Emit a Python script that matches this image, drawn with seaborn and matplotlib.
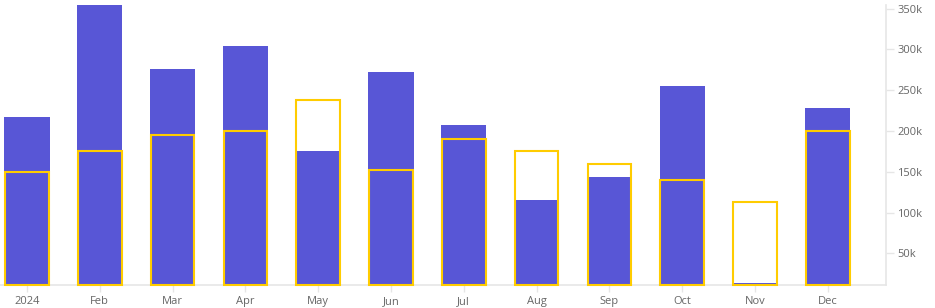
import matplotlib
matplotlib.use("Agg")
import matplotlib.pyplot as plt
import seaborn as sns
import pandas as pd
from matplotlib.ticker import FuncFormatter, FixedLocator

months = ["2024", "Feb", "Mar", "Apr", "May", "Jun", "Jul", "Aug", "Sep", "Oct", "Nov", "Dec"]
actual = [217000, 354000, 276000, 304000, 176000, 272000, 207000, 115000, 143000, 255000, 13000, 228000]
target = [150000, 175000, 195000, 200000, 238000, 152000, 190000, 175000, 160000, 140000, 113000, 200000]
yticks = [50000, 100000, 150000, 200000, 250000, 300000, 350000]

BLUE = "#5856d6"
YELLOW = "#ffcc00"
GRID = "#e6e6e6"
TXT = "#666666"

sns.set_theme(style="white")
plt.rcParams["font.family"] = ["Open Sans", "DejaVu Sans"]

df = pd.DataFrame({"month": months, "actual": actual, "target": target})

fig = plt.figure(figsize=(9.35, 3.08), dpi=100)
ax = fig.add_axes([0, 23 / 308, 886 / 935, 280 / 308])

ymin, ymax = 11100, 354500

sns.barplot(data=df, x="month", y="actual", color=BLUE, saturation=1, width=0.62,
            linewidth=0, ax=ax)
n_blue = len(ax.patches)
sns.barplot(data=df, x="month", y="target", color=YELLOW, saturation=1, width=0.6,
            fill=False, linewidth=1.5, ax=ax)

for i, p in enumerate(ax.patches):
    top = p.get_y() + p.get_height()
    p.set_y(ymin)
    p.set_height(top - ymin)
    if i >= n_blue:
        p.set_edgecolor(YELLOW)
        p.set_clip_on(False)
        p.set_zorder(3)

ax.set_ylim(ymin, ymax)
ax.set_xlim(-0.37, 11.8)

ax.yaxis.tick_right()
ax.yaxis.set_major_locator(FixedLocator(yticks))
ax.yaxis.set_major_formatter(FuncFormatter(lambda v, _: f"{int(v/1000)}k"))

for s in ["top", "left"]:
    ax.spines[s].set_visible(False)
for s in ["right", "bottom"]:
    ax.spines[s].set_visible(True)
    ax.spines[s].set_color(GRID)
    ax.spines[s].set_linewidth(1.2)

ax.tick_params(axis="y", which="major", right=True, left=False, length=6, width=1,
               color=GRID, labelcolor=TXT, labelsize=8, pad=2)
ax.tick_params(axis="x", which="major", bottom=True, length=5, width=1,
               color=GRID, labelcolor=TXT, labelsize=8, pad=3)

ax.set_xlabel("")
ax.set_ylabel("")
ax.grid(False)

fig.savefig("out.png", dpi=100)
